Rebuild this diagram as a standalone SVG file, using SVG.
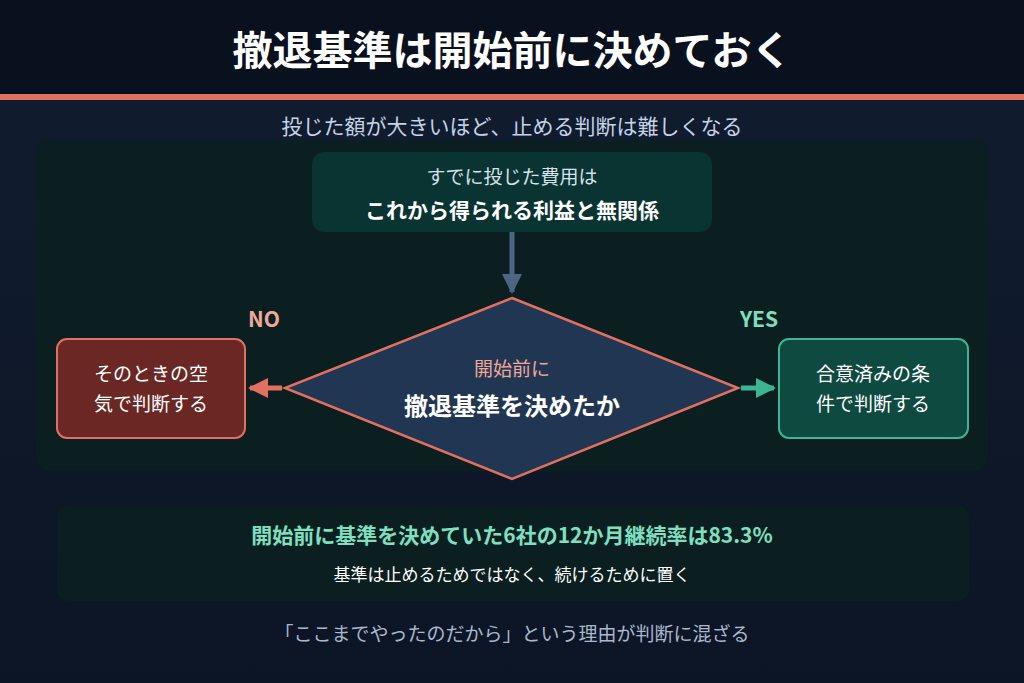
<svg xmlns="http://www.w3.org/2000/svg" width="1024" height="683" viewBox="0 0 1024 683">
<defs>
<linearGradient id="bg" x1="0" y1="0" x2="0" y2="1"><stop offset="0" stop-color="#111d30"/><stop offset="1" stop-color="#0c1525"/></linearGradient>
<marker id="ab" viewBox="0 0 10 10" refX="9" refY="5" markerWidth="4" markerHeight="4" orient="auto"><path d="M0,0L10,5L0,10z" fill="#4d6685"/></marker>
<marker id="ar" viewBox="0 0 10 10" refX="9" refY="5" markerWidth="4" markerHeight="4" orient="auto"><path d="M0,0L10,5L0,10z" fill="#e0705f"/></marker>
<marker id="ag" viewBox="0 0 10 10" refX="9" refY="5" markerWidth="4" markerHeight="4" orient="auto"><path d="M0,0L10,5L0,10z" fill="#3cb495"/></marker>
<style>
text{font-family:"Noto Sans CJK JP","Noto Sans",sans-serif;text-anchor:middle}
.b{font-weight:700}
</style>
</defs>
<rect width="1024" height="683" fill="url(#bg)"/>
<rect width="1024" height="94" fill="#09101e"/>
<rect y="94" width="1024" height="6" fill="#e0705f"/>
<text x="512" y="65" font-size="40" class="b" fill="#ffffff">撤退基準は開始前に決めておく</text>
<text x="512" y="134" font-size="21" fill="#c5d3e6">投じた額が大きいほど、止める判断は難しくなる</text>
<rect x="36" y="141" width="952" height="330" rx="14" fill="#0b1f20"/>
<g id="connectors" stroke-width="5" fill="none">
<line x1="512" y1="232" x2="512" y2="292" stroke="#4d6685" marker-end="url(#ab)"/>
<line x1="282" y1="388" x2="250" y2="388" stroke="#e0705f" marker-end="url(#ar)"/>
<line x1="741" y1="388" x2="774" y2="388" stroke="#3cb495" marker-end="url(#ag)"/>
</g>
<g id="sunk">
<rect x="312" y="152" width="400" height="80" rx="12" fill="#093431"/>
<text x="512" y="184" font-size="19" fill="#d6e2ea">すでに投じた費用は</text>
<text x="512" y="218" font-size="21" class="b" fill="#ffffff">これから得られる利益と無関係</text>
</g>
<g id="decision">
<polygon points="512,298 738,388 512,479 285,388" fill="#213652" stroke="#e0705f" stroke-width="2.5"/>
<text x="512" y="376" font-size="19" fill="#f0a898">開始前に</text>
<text x="512" y="415" font-size="24" class="b" fill="#ffffff">撤退基準を決めたか</text>
</g>
<text x="264" y="327" font-size="21" class="b" fill="#f0a898">NO</text>
<text x="759" y="327" font-size="21" class="b" fill="#7de0c0">YES</text>
<g id="no">
<rect x="57" y="339" width="188" height="99" rx="10" fill="#6b2724" stroke="#e0705f" stroke-width="2"/>
<text x="151" y="381" font-size="19" fill="#ffffff">そのときの空</text>
<text x="151" y="411" font-size="19" fill="#ffffff">気で判断する</text>
</g>
<g id="yes">
<rect x="779" y="339" width="189" height="99" rx="10" fill="#0e4a40" stroke="#3cb495" stroke-width="2"/>
<text x="873" y="381" font-size="19" fill="#ffffff">合意済みの条</text>
<text x="873" y="411" font-size="19" fill="#ffffff">件で判断する</text>
</g>
<g id="stat">
<rect x="57" y="506" width="912" height="95" rx="12" fill="#0b1f20"/>
<text x="512" y="543" font-size="21" class="b" fill="#7de0c0">開始前に基準を決めていた6社の12か月継続率は83.3%</text>
<text x="512" y="581" font-size="17" fill="#ffffff">基準は止めるためではなく、続けるために置く</text>
</g>
<text x="512" y="641" font-size="19" fill="#a9b8cc">「ここまでやったのだから」という理由が判断に混ざる</text>
</svg>
